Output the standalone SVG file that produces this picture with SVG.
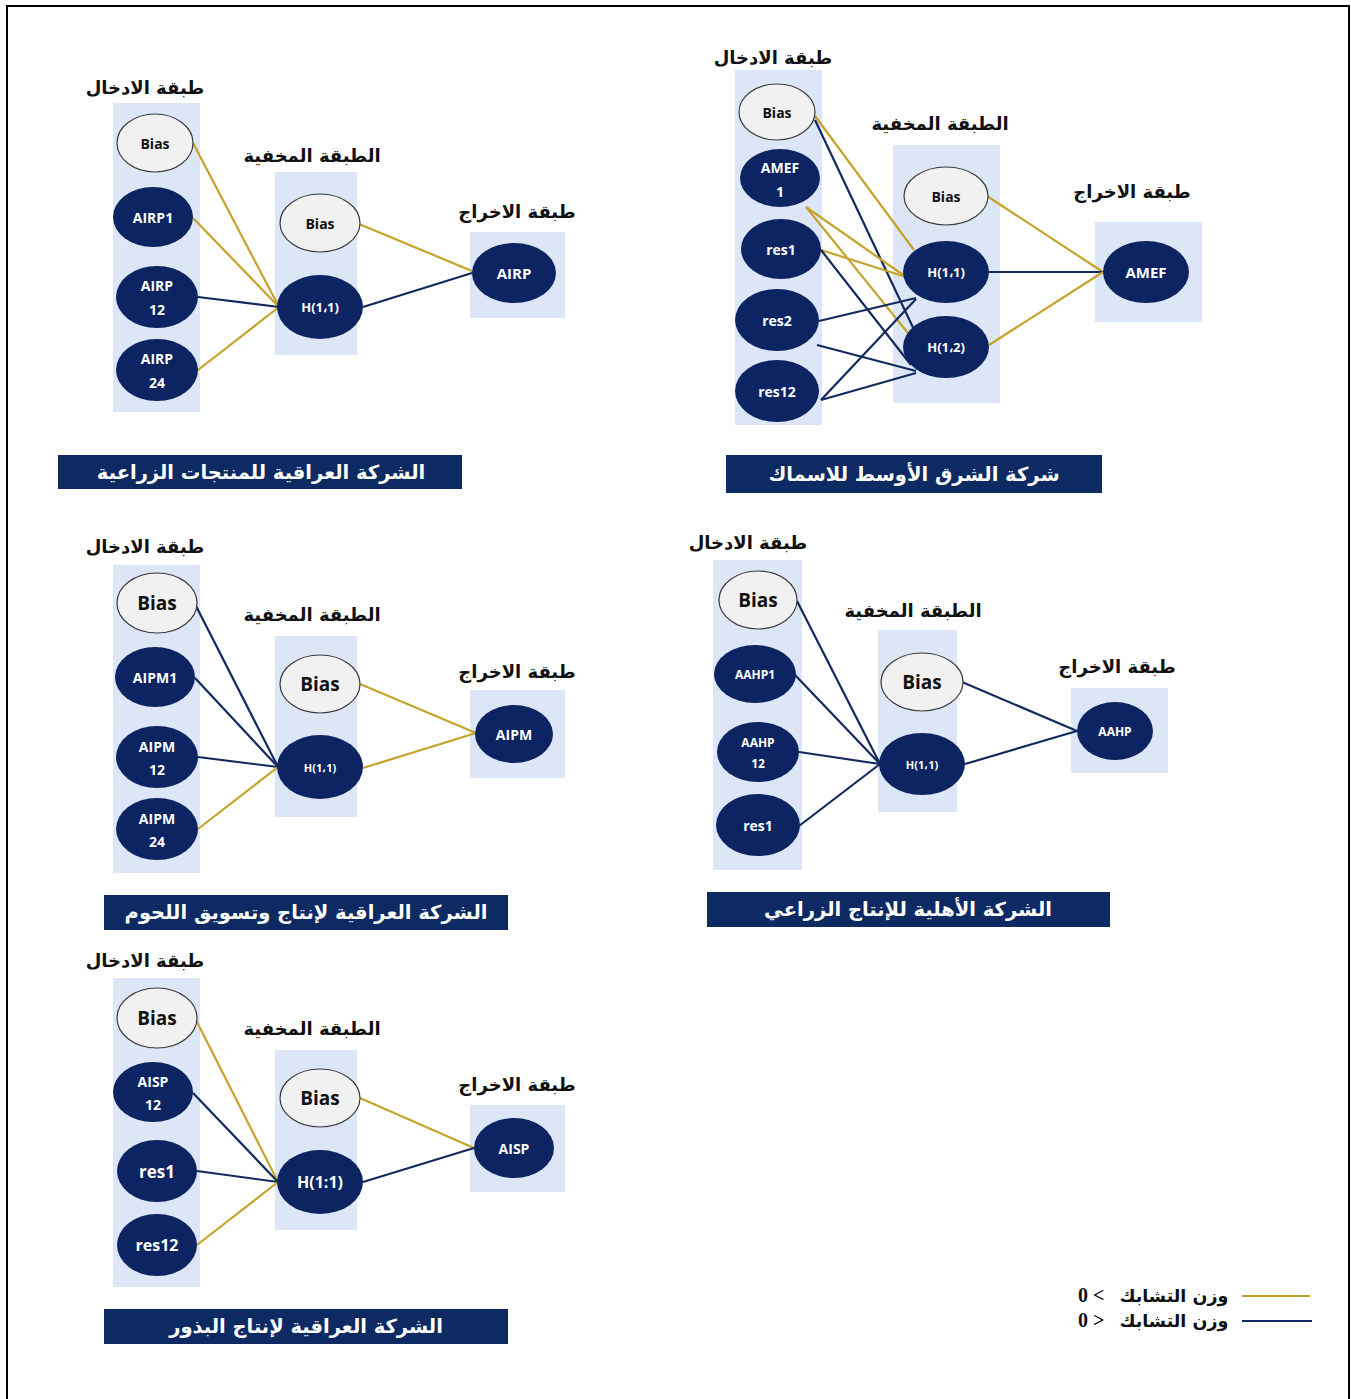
<svg xmlns="http://www.w3.org/2000/svg" width="1351" height="1399" viewBox="0 0 1351 1399">
<style>
.col{fill:#dce6f7}
.bias{fill:#f1f1f1;stroke:#3a3a3a;stroke-width:1.2}
.node{fill:#0c2462}
.pos{stroke:#c6a32a;stroke-width:2.2;fill:none}
.neg{stroke:#13295e;stroke-width:2.2;fill:none}
.lbl{font-family:'Open Sans','Liberation Sans',sans-serif;font-weight:bold;text-anchor:middle;dominant-baseline:central}
.w{fill:#ffffff}
.k{fill:#111111}
.ar{font-family:'DejaVu Sans',sans-serif;font-weight:bold;text-anchor:middle;fill:#111111;font-size:18px}
.tbox{fill:#0d2a63}
.tt{font-family:'DejaVu Sans',sans-serif;font-weight:bold;fill:#ffffff;text-anchor:middle;font-size:19.5px}
</style>
<rect width="1351" height="1399" fill="#ffffff"/>
<path d="M7,1399 V6 H1349 V1399" fill="none" stroke="#000" stroke-width="2"/>

<!-- layer columns -->
<g id="columns">
<rect class="col" x="113" y="103" width="87" height="309"/>
<rect class="col" x="275" y="172" width="82" height="183"/>
<rect class="col" x="470" y="232" width="95" height="86"/>
<rect class="col" x="735" y="70" width="87" height="355"/>
<rect class="col" x="893" y="145" width="107" height="258"/>
<rect class="col" x="1095" y="222" width="107" height="100"/>
<rect class="col" x="113" y="565" width="87" height="308"/>
<rect class="col" x="275" y="636" width="82" height="181"/>
<rect class="col" x="470" y="690" width="95" height="88"/>
<rect class="col" x="713" y="560" width="89" height="310"/>
<rect class="col" x="878" y="630" width="79" height="182"/>
<rect class="col" x="1071" y="688" width="97" height="85"/>
<rect class="col" x="113" y="978" width="87" height="309"/>
<rect class="col" x="275" y="1050" width="82" height="180"/>
<rect class="col" x="470" y="1105" width="95" height="87"/>
</g>

<!-- layer headings -->
<g id="headings">
<text class="ar" x="145" y="94">طبقة الادخال</text>
<text class="ar" x="312" y="162">الطبقة المخفية</text>
<text class="ar" x="517" y="218" font-size="19">طبقة الاخراج</text>
<text class="ar" x="773" y="64">طبقة الادخال</text>
<text class="ar" x="940" y="130">الطبقة المخفية</text>
<text class="ar" x="1132" y="198">طبقة الاخراج</text>
<text class="ar" x="145" y="553">طبقة الادخال</text>
<text class="ar" x="312" y="621">الطبقة المخفية</text>
<text class="ar" x="517" y="678" font-size="19">طبقة الاخراج</text>
<text class="ar" x="748" y="549">طبقة الادخال</text>
<text class="ar" x="913" y="617">الطبقة المخفية</text>
<text class="ar" x="1117" y="673" font-size="19">طبقة الاخراج</text>
<text class="ar" x="145" y="967">طبقة الادخال</text>
<text class="ar" x="312" y="1035">الطبقة المخفية</text>
<text class="ar" x="517" y="1091" font-size="19">طبقة الاخراج</text>
</g>

<!-- connectors -->
<g id="connectors">
<!-- panel 1 -->
<line class="pos" x1="193" y1="143" x2="279" y2="307"/>
<line class="pos" x1="193" y1="218" x2="279" y2="307"/>
<line class="neg" x1="198" y1="297" x2="279" y2="307"/>
<line class="pos" x1="198" y1="370" x2="279" y2="307"/>
<line class="pos" x1="359" y1="224" x2="472" y2="271"/>
<line class="neg" x1="363" y1="307" x2="472" y2="273"/>
<!-- panel 2 -->
<line class="pos" x1="815" y1="116" x2="914" y2="250"/>
<line class="neg" x1="815" y1="120" x2="917" y2="336"/>
<line class="pos" x1="806" y1="207" x2="906" y2="277"/>
<line class="pos" x1="806" y1="207" x2="925" y2="354"/>
<line class="pos" x1="821" y1="250" x2="906" y2="277"/>
<line class="neg" x1="821" y1="250" x2="911" y2="365"/>
<line class="neg" x1="819" y1="321" x2="916" y2="298"/>
<line class="neg" x1="817" y1="345" x2="916" y2="371"/>
<line class="neg" x1="821" y1="400" x2="916" y2="299"/>
<line class="neg" x1="821" y1="400" x2="916" y2="373"/>
<line class="pos" x1="987" y1="196" x2="1103" y2="272"/>
<line class="neg" x1="989" y1="272" x2="1103" y2="272"/>
<line class="pos" x1="989" y1="345" x2="1103" y2="272"/>
<!-- panel 3 -->
<line class="neg" x1="195" y1="604" x2="278" y2="767"/>
<line class="neg" x1="195" y1="678" x2="278" y2="767"/>
<line class="neg" x1="198" y1="757" x2="278" y2="767"/>
<line class="pos" x1="198" y1="829" x2="278" y2="767"/>
<line class="pos" x1="360" y1="684" x2="476" y2="733"/>
<line class="pos" x1="363" y1="768" x2="476" y2="733"/>
<!-- panel 4 -->
<line class="neg" x1="797" y1="601" x2="880" y2="764"/>
<line class="neg" x1="795" y1="675" x2="880" y2="764"/>
<line class="neg" x1="799" y1="752" x2="880" y2="764"/>
<line class="neg" x1="799" y1="826" x2="880" y2="764"/>
<line class="neg" x1="962" y1="682" x2="1077" y2="731"/>
<line class="neg" x1="965" y1="764" x2="1077" y2="731"/>
<!-- panel 5 -->
<line class="pos" x1="195" y1="1018" x2="278" y2="1182"/>
<line class="neg" x1="193" y1="1093" x2="278" y2="1182"/>
<line class="neg" x1="197" y1="1171" x2="278" y2="1182"/>
<line class="pos" x1="197" y1="1245" x2="278" y2="1182"/>
<line class="pos" x1="360" y1="1098" x2="474" y2="1148"/>
<line class="neg" x1="363" y1="1182" x2="474" y2="1148"/>
</g>

<!-- panel 1 nodes -->
<g id="p1-in-bias"><ellipse class="bias" cx="155" cy="143" rx="38" ry="29"/><text class="lbl k" x="155" y="143" font-size="14">Bias</text></g>
<g id="p1-airp1"><ellipse class="node" cx="153" cy="217" rx="40" ry="30"/><text class="lbl w" x="153" y="217" font-size="14">AIRP1</text></g>
<g id="p1-airp12"><ellipse class="node" cx="157" cy="297" rx="41" ry="31"/><text class="lbl w" x="157" y="285" font-size="14">AIRP</text><text class="lbl w" x="157" y="309" font-size="14">12</text></g>
<g id="p1-airp24"><ellipse class="node" cx="157" cy="370" rx="41" ry="31"/><text class="lbl w" x="157" y="358" font-size="14">AIRP</text><text class="lbl w" x="157" y="382" font-size="14">24</text></g>
<g id="p1-hid-bias"><ellipse class="bias" cx="320" cy="223" rx="40" ry="29"/><text class="lbl k" x="320" y="223" font-size="14">Bias</text></g>
<g id="p1-h11"><ellipse class="node" cx="320" cy="307" rx="43" ry="32"/><text class="lbl w" x="320" y="307" font-size="13">H(1،1)</text></g>
<g id="p1-out"><ellipse class="node" cx="514" cy="273" rx="42" ry="30"/><text class="lbl w" x="514" y="273" font-size="15">AIRP</text></g>

<!-- panel 2 nodes -->
<g id="p2-in-bias"><ellipse class="bias" cx="777" cy="112" rx="38" ry="28"/><text class="lbl k" x="777" y="112" font-size="14">Bias</text></g>
<g id="p2-amef1"><ellipse class="node" cx="780" cy="178" rx="40" ry="29"/><text class="lbl w" x="780" y="167" font-size="14">AMEF</text><text class="lbl w" x="780" y="191" font-size="14">1</text></g>
<g id="p2-res1"><ellipse class="node" cx="781" cy="249" rx="40" ry="30"/><text class="lbl w" x="781" y="249" font-size="14">res1</text></g>
<g id="p2-res2"><ellipse class="node" cx="777" cy="320" rx="42" ry="31"/><text class="lbl w" x="777" y="320" font-size="14">res2</text></g>
<g id="p2-res12"><ellipse class="node" cx="777" cy="391" rx="42" ry="31"/><text class="lbl w" x="777" y="391" font-size="14">res12</text></g>
<g id="p2-hid-bias"><ellipse class="bias" cx="946" cy="196" rx="42" ry="29"/><text class="lbl k" x="946" y="196" font-size="14">Bias</text></g>
<g id="p2-h11"><ellipse class="node" cx="946" cy="272" rx="43" ry="31"/><text class="lbl w" x="946" y="272" font-size="13">H(1،1)</text></g>
<g id="p2-h12"><ellipse class="node" cx="946" cy="347" rx="43" ry="31"/><text class="lbl w" x="946" y="347" font-size="13">H(1،2)</text></g>
<g id="p2-out"><ellipse class="node" cx="1146" cy="272" rx="43" ry="31"/><text class="lbl w" x="1146" y="272" font-size="15">AMEF</text></g>

<!-- panel 3 nodes -->
<g id="p3-in-bias"><ellipse class="bias" cx="157" cy="603" rx="40" ry="30"/><text class="lbl k" x="157" y="603" font-size="19">Bias</text></g>
<g id="p3-aipm1"><ellipse class="node" cx="155" cy="677" rx="40" ry="30"/><text class="lbl w" x="155" y="677" font-size="14">AIPM1</text></g>
<g id="p3-aipm12"><ellipse class="node" cx="157" cy="757" rx="41" ry="31"/><text class="lbl w" x="157" y="746" font-size="14">AIPM</text><text class="lbl w" x="157" y="769" font-size="14">12</text></g>
<g id="p3-aipm24"><ellipse class="node" cx="157" cy="829" rx="41" ry="31"/><text class="lbl w" x="157" y="818" font-size="14">AIPM</text><text class="lbl w" x="157" y="841" font-size="14">24</text></g>
<g id="p3-hid-bias"><ellipse class="bias" cx="320" cy="684" rx="40" ry="29"/><text class="lbl k" x="320" y="684" font-size="19">Bias</text></g>
<g id="p3-h11"><ellipse class="node" cx="320" cy="767" rx="43" ry="32"/><text class="lbl w" x="320" y="767" font-size="11">H(1،1)</text></g>
<g id="p3-out"><ellipse class="node" cx="514" cy="734" rx="39" ry="29"/><text class="lbl w" x="514" y="734" font-size="14">AIPM</text></g>

<!-- panel 4 nodes -->
<g id="p4-in-bias"><ellipse class="bias" cx="758" cy="600" rx="39" ry="29"/><text class="lbl k" x="758" y="600" font-size="19">Bias</text></g>
<g id="p4-aahp1"><ellipse class="node" cx="755" cy="674" rx="41" ry="29"/><text class="lbl w" x="755" y="674" font-size="12">AAHP1</text></g>
<g id="p4-aahp12"><ellipse class="node" cx="758" cy="752" rx="41" ry="30"/><text class="lbl w" x="758" y="742" font-size="12">AAHP</text><text class="lbl w" x="758" y="763" font-size="12">12</text></g>
<g id="p4-res1"><ellipse class="node" cx="758" cy="825" rx="42" ry="31"/><text class="lbl w" x="758" y="825" font-size="14">res1</text></g>
<g id="p4-hid-bias"><ellipse class="bias" cx="922" cy="682" rx="41" ry="29"/><text class="lbl k" x="922" y="682" font-size="19">Bias</text></g>
<g id="p4-h11"><ellipse class="node" cx="922" cy="764" rx="43" ry="31"/><text class="lbl w" x="922" y="764" font-size="11">H(1،1)</text></g>
<g id="p4-out"><ellipse class="node" cx="1115" cy="731" rx="38" ry="29"/><text class="lbl w" x="1115" y="731" font-size="12">AAHP</text></g>

<!-- panel 5 nodes -->
<g id="p5-in-bias"><ellipse class="bias" cx="157" cy="1018" rx="40" ry="30"/><text class="lbl k" x="157" y="1018" font-size="19">Bias</text></g>
<g id="p5-aisp12"><ellipse class="node" cx="153" cy="1092" rx="40" ry="30"/><text class="lbl w" x="153" y="1081" font-size="14">AISP</text><text class="lbl w" x="153" y="1104" font-size="14">12</text></g>
<g id="p5-res1"><ellipse class="node" cx="157" cy="1171" rx="40" ry="31"/><text class="lbl w" x="157" y="1171" font-size="17">res1</text></g>
<g id="p5-res12"><ellipse class="node" cx="157" cy="1245" rx="40" ry="31"/><text class="lbl w" x="157" y="1245" font-size="16">res12</text></g>
<g id="p5-hid-bias"><ellipse class="bias" cx="320" cy="1098" rx="40" ry="29"/><text class="lbl k" x="320" y="1098" font-size="19">Bias</text></g>
<g id="p5-h11"><ellipse class="node" cx="320" cy="1182" rx="43" ry="32"/><text class="lbl w" x="320" y="1182" font-size="16">H(1:1)</text></g>
<g id="p5-out"><ellipse class="node" cx="514" cy="1148" rx="40" ry="30"/><text class="lbl w" x="514" y="1148" font-size="14">AISP</text></g>

<!-- titles -->
<g id="titles">
<rect class="tbox" x="58" y="455" width="404" height="34"/>
<text class="tt" x="261" y="479">الشركة العراقية للمنتجات الزراعية</text>
<rect class="tbox" x="726" y="455" width="376" height="38"/>
<text class="tt" x="914" y="481">شركة الشرق الأوسط للاسماك</text>
<rect class="tbox" x="104" y="895" width="404" height="35"/>
<text class="tt" x="306" y="919">الشركة العراقية لإنتاج وتسويق اللحوم</text>
<rect class="tbox" x="707" y="892" width="403" height="35"/>
<text class="tt" x="908" y="916">الشركة الأهلية للإنتاج الزراعي</text>
<rect class="tbox" x="104" y="1309" width="404" height="35"/>
<text class="tt" x="306" y="1333">الشركة العراقية لإنتاج البذور</text>
</g>

<!-- legend -->
<g id="legend">
<line class="pos" x1="1242" y1="1296" x2="1310" y2="1296"/>
<line class="neg" x1="1242" y1="1321" x2="1312" y2="1321"/>
<text x="1078" y="1302" font-family="'DejaVu Sans',sans-serif" font-weight="bold" font-size="17.5" fill="#111" direction="ltr"><tspan font-family="'Liberation Serif',serif" font-size="20">0 &lt;&#160;&#160; </tspan>وزن التشابك</text>
<text x="1078" y="1327" font-family="'DejaVu Sans',sans-serif" font-weight="bold" font-size="17.5" fill="#111" direction="ltr"><tspan font-family="'Liberation Serif',serif" font-size="20">0 &gt;&#160;&#160; </tspan>وزن التشابك</text>
</g>
</svg>
